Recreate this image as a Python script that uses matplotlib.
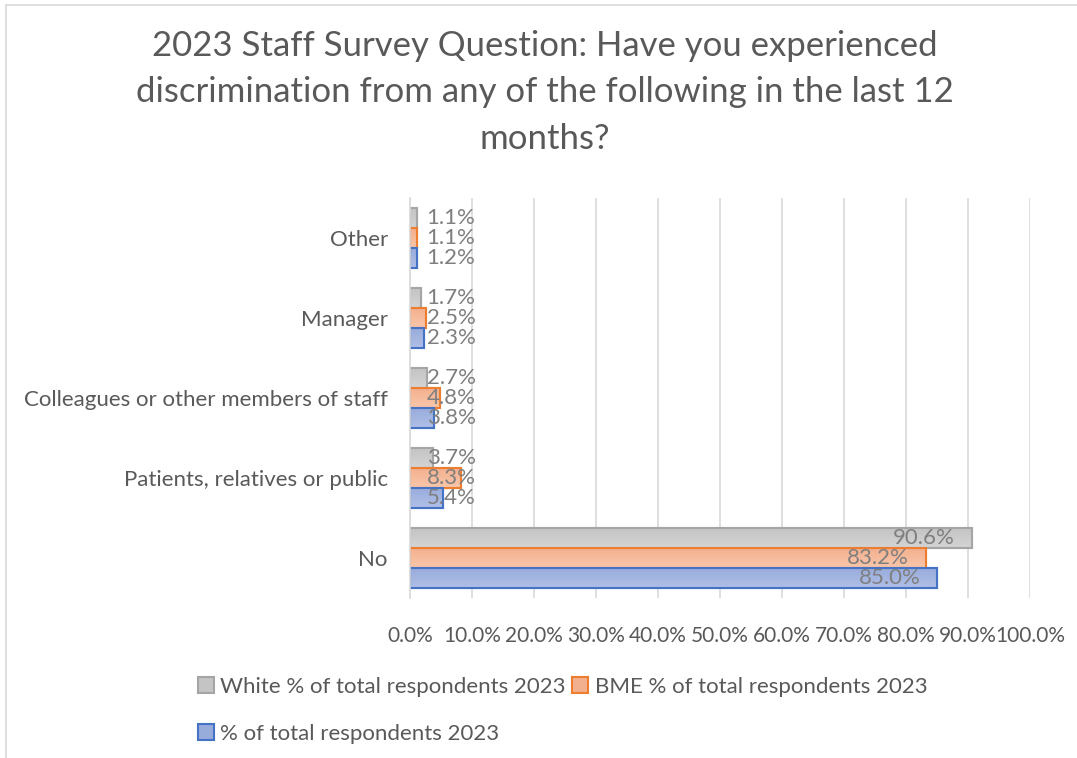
import matplotlib
matplotlib.use("Agg")
import matplotlib.pyplot as plt
import numpy as np
from matplotlib.patches import Rectangle
from matplotlib.colors import LinearSegmentedColormap

plt.rcParams['font.family'] = ['Lato', 'DejaVu Sans']

categories = ["No", "Patients, relatives or public", "Colleagues or other members of staff", "Manager", "Other"]
white_vals = [90.6, 3.7, 2.7, 1.7, 1.1]
bme_vals = [83.2, 8.3, 4.8, 2.5, 1.1]
total_vals = [85.0, 5.4, 3.8, 2.3, 1.2]
series_names = ["White % of total respondents 2023", "BME % of total respondents 2023", "% of total respondents 2023"]
xticks = [0, 10, 20, 30, 40, 50, 60, 70, 80, 90, 100]
title = "2023 Staff Survey Question: Have you experienced\ndiscrimination from any of the following in the last 12\nmonths?"

fills = [("#d4d4d4", "#c4c4c4"), ("#f9c7ab", "#f3b08e"), ("#b0bfe6", "#98acdc")]
edges = ["#a5a5a5", "#ed7d31", "#4472c4"]
text_col = "#595959"
label_col = "#7f7f7f"
fs = 16

fig = plt.figure(figsize=(10.77, 7.58), dpi=100)
fig.patches.append(Rectangle((6/1077, -0.1), 1.2, 1 - 5/758 + 0.1, transform=fig.transFigure,
                             fill=False, edgecolor="#d9d9d9", linewidth=1.2))
ax = fig.add_axes([410/1077, 1 - 598/758, 620/1077, 400/758])

y = np.arange(len(categories))
h = 0.25
offsets = [h, 0, -h]
all_vals = [white_vals, bme_vals, total_vals]
handles = []
for vals, off, (c1, c2), ec, name in zip(all_vals, offsets, fills, edges, series_names):
    bars = ax.barh(y + off, vals, height=h, color=c2, edgecolor=ec, linewidth=1.5, label=name, zorder=3)
    cmap = LinearSegmentedColormap.from_list("g", [c1, c2])
    for b in bars:
        x0, y0 = b.get_x(), b.get_y()
        w, hh = b.get_width(), b.get_height()
        im = ax.imshow(np.linspace(0, 1, 50).reshape(-1, 1), cmap=cmap, aspect='auto',
                       extent=[x0, x0 + w, y0, y0 + hh], origin='lower', zorder=3.5)
        im.set_clip_path(b)
        ax.add_patch(Rectangle((x0, y0), w, hh, fill=False, edgecolor=ec, linewidth=1.5, zorder=4))
    handles.append(bars)
    for yi, v in zip(y + off, vals):
        if v > 50:
            ax.annotate(f"{v:.1f}%", (v, yi), xytext=(-12, 0), textcoords="offset points",
                        ha="right", va="center", fontsize=fs, color=label_col, zorder=5)
        else:
            ax.annotate(f"{v:.1f}%", (0, yi), xytext=(12, 0), textcoords="offset points",
                        ha="left", va="center", fontsize=fs, color=label_col, zorder=5)

ax.set_xlim(0, 100)
ax.set_ylim(-0.5, len(categories) - 0.5)
ax.set_xticks(xticks)
ax.set_xticklabels([f"{t:.1f}%" for t in xticks])
ax.set_yticks(y)
ax.set_yticklabels(categories)
ax.grid(axis='x', color="#d9d9d9", linewidth=1.2, zorder=0)
for s in ["top", "right", "bottom"]:
    ax.spines[s].set_visible(False)
ax.spines["left"].set_color("#d9d9d9")
ax.spines["left"].set_linewidth(1.2)
ax.spines["left"].set_zorder(6)
ax.tick_params(axis='both', length=0, labelsize=fs, colors=text_col)
ax.tick_params(axis='x', pad=20, labelsize=15)
ax.tick_params(axis='y', pad=16)

fig.text(0.506, 1 - 30/758, title, ha="center", va="top", fontsize=25, color=text_col, linespacing=1.55)

order = [0, 2, 1]
leg = fig.legend([handles[i] for i in order], [series_names[i] for i in order], ncol=2,
                 loc="upper left", bbox_to_anchor=(178/1077, 1 - 657/758), frameon=False,
                 fontsize=fs, labelcolor=text_col, handlelength=0.7, handleheight=0.7,
                 handletextpad=0.3, columnspacing=0.3, labelspacing=1.2)

fig.savefig("out.png", dpi=100)
